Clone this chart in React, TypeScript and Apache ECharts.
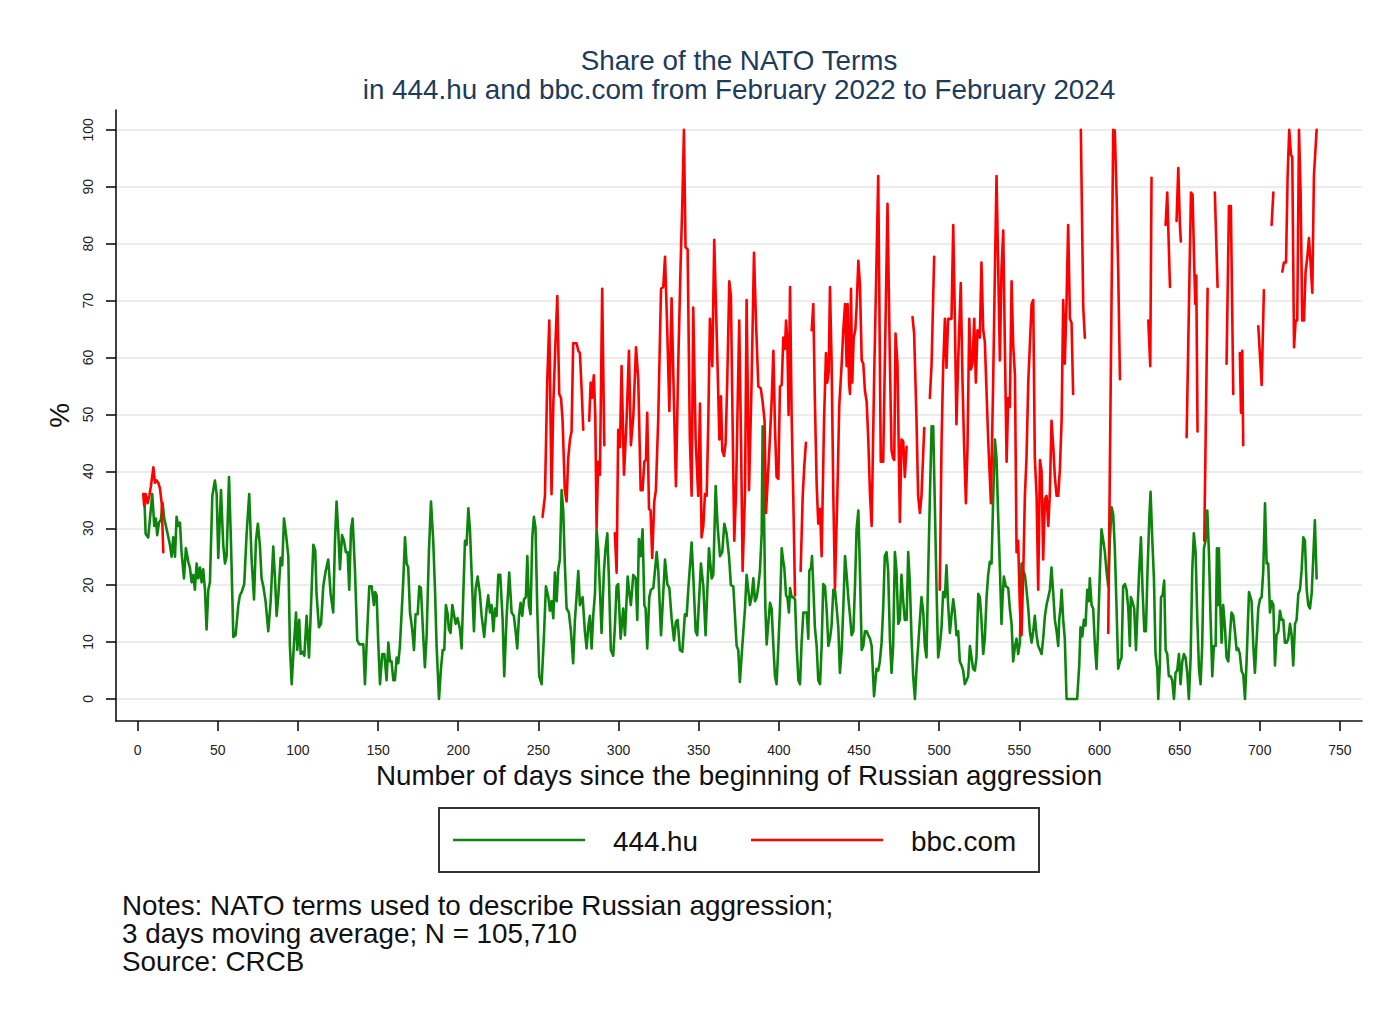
import React, { useEffect, useRef } from "react";
import * as echarts from "echarts";

const FONT = "'Liberation Sans', Arial, Helvetica, sans-serif";

const titleLines = [
  "Share of the NATO Terms",
  "in 444.hu and bbc.com from February 2022 to February 2024",
];
const xAxisTitle = "Number of days since the beginning of Russian aggression";
const yAxisTitle = "%";
const seriesNames = ["444.hu", "bbc.com"];
const noteLines = [
  "Notes: NATO terms used to describe Russian aggression;",
  "3 days moving average; N = 105,710",
  "Source: CRCB",
];

const xTicks = [0, 50, 100, 150, 200, 250, 300, 350, 400, 450, 500, 550, 600, 650, 700, 750];
const yTicks = [0, 10, 20, 30, 40, 50, 60, 70, 80, 90, 100];

// [day, share %] for 444.hu
const share444: [number, number][] = [
  [4.1,36],[5,29],[6.6,28.4],[7.7,31.7],[9.1,36],[10.4,30.4],[11.4,31.7],[12.2,28.8],[13.3,31],[14.5,31.5],[15.6,34.4],[16.6,31.7],[18.1,29.8],[20.2,27],[21.2,25],[22.2,28.4],[23.3,25],[24.3,32],[25.3,30.4],[26.4,31],[27.4,25.8],[28.9,21.2],[30.1,26.5],[31.6,24.1],[32.6,23.1],[33.7,20.5],[34.7,21.8],[35.7,19.2],[36.8,23.8],[37.8,21.2],[38.9,23.1],[39.9,20.5],[40.9,22.8],[42,19.2],[43,12.2],[44.1,19.2],[45.1,20.5],[46.6,35.7],[48.2,38.4],[49.3,36],[50.3,24.8],[52,36.7],[53.4,27.1],[54.5,23.8],[55.5,25.1],[57,39],[58.2,27.8],[59.7,10.9],[61.1,11.2],[62.8,16.5],[63.8,18.2],[64.9,18.8],[66.5,20.2],[68,29.1],[69.6,36],
  [71.1,24.5],[72.6,17.5],[73.8,27.8],[75,30.8],[76.3,26.8],[77.3,21.2],[78.4,19.8],[79.8,17.2],[81.5,11.9],[83,17.2],[84.6,26.8],[85.7,21.2],[86.7,14.6],[87.7,17.9],[89.2,24.8],[90.2,23.5],[91.3,31.7],[92.5,29.1],[94,25.1],[95,9.3],[96.1,2.6],[97.5,9.6],[98.8,15.2],[99.6,8.6],[100.8,13.9],[101.7,7.9],[102.9,8.3],[104,7.6],[105.4,14.6],[106.9,7.3],[108.1,15.9],[109.6,27.1],[110.8,26.1],[111.6,18.5],[113.1,12.6],[114.4,13.2],[115.8,19.8],[117.3,22.5],[118.9,24.5],[120.4,18.5],[122,15.2],[123.1,27.8],[124.1,34.7],[125.2,29.1],[126.2,22.8],[127.5,28.8],[128.7,27.8],[129.9,25.8],[131,25.8],[132,19.2],[133.1,29.8],[134.1,31.7],[135.6,22.5],[137,10.3],[138.3,9.6],[140.8,9.6],[141.8,2.6],[142.8,9.3],[144.5,19.8],[146,19.8],[147.4,16.5],
  [148.2,18.8],[149.1,18.2],[150.1,9.9],[151.2,2.6],[152.6,7.9],[153.9,7.9],[155.3,3.3],[156.4,9.9],[157.4,6.6],[158.4,6.6],[159.5,3.3],[160.5,3.3],[161.6,7.3],[162.6,6.3],[163.6,9.3],[164.7,15.2],[165.7,20.8],[166.8,28.4],[167.8,23.8],[168.8,23.1],[169.9,15.2],[171.3,12.2],[172.4,8.6],[173.4,14.9],[174.7,14.9],[175.7,19.8],[176.7,19.5],[178.2,10.9],[179.2,5.6],[180.3,11.2],[181.7,25.8],[183,34.7],[184.4,27.8],[185.5,19.2],[186.5,9.3],[188,0],[189.2,5.3],[190.3,8.6],[191.3,8.6],[192.3,16.5],[193.4,14.9],[194.2,12.2],[195.2,11.6],[196.3,16.5],[197.3,14.9],[198.4,13.2],[199.6,14.2],[201.1,12.2],[202.1,8.9],[203.1,17.9],[204.2,27.8],[205.2,27.1],[206.3,33.5],[207.3,29.8],[208.3,22.5],[209.8,11.9],[210.8,19.2],[212.1,21.5],[213.5,18.5],[214.6,14.6],[216.2,10.9],[217.7,15.9],[218.7,18.2],[219.8,15.2],[220.8,16.5],[221.9,11.9],[222.9,15.9],[223.9,14.6],[225,21.8],
  [226.2,21.8],[227.7,13.9],[228.7,4],[230.2,14.6],[231.8,22.2],[233.3,15.2],[234.7,14.6],[235.8,11.9],[236.8,8.9],[237.9,14.6],[238.9,16.9],[239.9,14.6],[241,17.5],[242.2,17.9],[243.1,25.1],[244.1,16.5],[245.1,14.9],[246.2,28.4],[247.2,32],[248.2,30.1],[249.3,15.9],[250.5,4],[252,2.6],[253.4,10.6],[254.7,19.8],[256.2,17.9],[257.2,15.5],[258.2,17.2],[259.3,14.2],[260.3,22.2],[261.4,17.2],[262.4,22.8],[263.4,24.5],[264.5,36.7],[265.5,33.1],[266.5,23.8],[267.6,15.9],[269,15.2],[270.3,11.9],[271.7,6.3],[272.8,13.9],[273.8,17.9],[274.9,22.5],[275.9,16.5],[277.6,17.9],[279,11.9],[280.1,8.9],[281.1,12.6],[282.1,14.6],[283.2,8.9],[284.2,14.6],[285.3,18.5],[286.3,29.8],[287.3,26.5],[288.4,19.2],[289.4,11.6],[290.9,22.5],[291.9,26.5],[293,29.1],[294,21.2],[295.2,8.6],[296.7,7.6],[297.7,12.6],[298.8,19.8],[299.8,20.2],[301.3,10.6],[302.9,15.9],
  [304,11.2],[305.7,21.5],[306.5,19.2],[307.7,16.5],[309.2,21.8],[310.7,21.2],[311.7,13.9],[312.7,28.1],[313.8,25.1],[315,29.8],[316.1,16.5],[316.9,15.9],[317.9,8.9],[319.2,17.9],[320.2,19.2],[321.7,19.5],[323.8,25.8],[324.8,22.5],[326.5,11.2],[327.5,16.5],[329,24.5],[330.4,20.2],[331.7,19.5],[333.1,14.2],[334.6,10.3],[335.8,13.6],[336.9,13.9],[338.3,8.6],[339.8,8.3],[341.4,14.9],[342.5,14.6],[343.5,19.2],[345.6,27.5],[346.6,21.8],[348.1,11.9],[349.1,11.2],[351.4,23.8],[352.9,19.8],[354.3,11.2],[356.4,26.5],[358.1,21.2],[359.1,21.8],[360.6,37.4],[361.8,30.4],[363.3,25.1],[364.7,25.8],[366,30.8],[367.4,29.1],[368.9,25.1],[370.1,20],[371.6,19.8],[373.7,9.3],[374.7,8.6],[375.7,3],[377.2,9.3],[378.9,15.9],[379.9,21.8],
  [382,16.5],[383,17.9],[384.1,21.2],[385.1,17.2],[386.2,17.9],[387.2,19.8],[388.2,22.5],[389.3,29.1],[389.9,47.9],[390.7,33.7],[391.6,15.9],[392.4,9.6],[393.4,13.2],[394.5,16.9],[395.5,15.9],[396.6,9.3],[397.6,4],[398.6,2.6],[399.7,9.3],[400.7,15.9],[401.8,26.5],[402.8,24.1],[403.4,23.1],[404.5,18.2],[405.3,17.9],[406.3,15.2],[407,19.5],[408,17.9],[409,17.9],[410.1,17.5],[411.1,9.3],[412.2,3.3],[413.2,2.6],[414.2,9.9],[415.3,15.2],[416.3,15.2],[417.4,15.2],[418.4,10.6],[419,22.5],[420.1,23.1],[420.7,25.1],[421.5,19.8],[422.5,12.6],[423.6,9.3],[424.6,3.3],[425.7,2.6],[426.7,9.3],[427.7,20.2],[428.8,19.8],[429.8,15.9],[430.9,9.3],[431.9,10.6],[432.9,12.9],[434,19.2],[435,19.2],[436.1,15.9],[437.1,12.6],[438.1,4.6],[439.2,8.6],[440.2,15.9],[441.3,25.1],[442.3,21.8],[443.3,17.9],[444.4,14.6],[445.4,11.2],[446.5,11.9],[447.5,19.8],[448.5,29.8],[449.6,33.1],[450.6,22.5],[451.7,8.6],[452.7,9.3],[453.7,11.9],[454.8,11.9],[455.8,11.2],[456.9,10.6],[457.9,9.3],[459.4,0.5],
  [460.9,5.3],[462,5],[463,6.6],[464.1,9.9],[465.1,15.9],[466.1,25.1],[467.2,25.8],[468.2,22.5],[469.3,10.6],[470.3,4.6],[471.3,9.3],[472.4,25.8],[473.4,22.5],[474.5,13.2],[475.5,13.9],[476.5,21.8],[477.6,17.2],[478.6,13.9],[479.7,13.9],[480.7,25.8],[481.7,20.5],[482.8,10.6],[483.8,4],[484.9,0],[485.9,5.3],[486.9,9.3],[488,13.9],[489,17.9],[490.1,15.2],[491.1,9.3],[492.1,7.3],[493.2,22.5],[494.2,35.1],[495.3,47.9],[496.3,47.9],[497.3,34.4],[498.4,19.2],[499.4,7.3],[500.4,9.3],[501.5,12.6],[502.5,18.8],[503.6,17.9],[504.6,23.5],[505.6,16.7],[506.7,11.6],[507.7,14.6],[508.8,17.5],[509.8,15.2],[510.8,11.2],[511.9,11.9],[512.9,6.6],[514,5.9],[515,5],[516,2.6],[517.1,3.3],[518.1,4],[519.2,9.3],[520.2,7.3],[521.2,5.3],[522.3,5],[523.3,7.3],[524.4,18.5],[525.4,17.9],[526.4,13.9],[527.5,7.9],[528.5,10.6],[529.6,17.9],[530.6,21.8],[531.6,24.1],[532.7,23.8],[533.7,35.1],[534.8,45.6],[535.8,42.3],[536.8,32.4],
  [538,22],[538.9,13.2],[539.6,17.9],[540.4,21.5],[541.6,19.8],[543.1,19.5],[544.1,15.9],[545.2,13.2],[546.2,6.6],[547.3,9.3],[548.3,10.6],[549.3,7.9],[550.4,9.9],[551.4,23.8],[552.5,22.5],[553.5,21.8],[554.5,19.2],[555.6,15.9],[556.6,11.9],[557.7,9.9],[558.7,11.9],[559.7,14.6],[560.8,11.2],[561.8,9.3],[562.9,8.6],[563.9,7.9],[564.9,10.6],[566,14.6],[567,16.5],[568.1,17.9],[569.1,19.2],[570.1,23.1],[571.2,18.5],[572.2,13.9],[573.3,11.9],[574.3,9.3],[574.9,13.9],[575.7,15.9],[576.4,19.2],[577.4,13.9],[578.4,10.6],[579.5,0],[586.1,0],[587.4,5.9],[588.2,12.6],[589.3,11],[590.3,13.9],[591.3,12.9],[592.4,19.2],[593.4,17.2],[594,21.2],[595.1,16.5],[596.1,15.9],[597.2,9.3],[598.2,5.3],[599.2,12.6],[600.3,22.5],[601.3,29.8],[602.4,27.8],[603.4,25.8],[604.4,22.5],[605.5,19.8],[606.5,27.8],[607.6,33.7],[608.6,32.4],[609.6,26.5],[610.7,15.9],[611.7,5.3],[612.8,6.6],[613.8,7.3],[614.8,19.8],
  [615.9,20.2],[616.9,19.2],[618,15.9],[619,9.3],[619.6,17.9],[620.5,17.2],[621.7,15.9],[622.8,8.6],[623.8,15.9],[624.8,22.5],[625.9,28.4],[626.9,19.2],[628,11.9],[629,11.9],[630,22.5],[631.1,31.7],[631.9,36.4],[633,27.8],[634,21.2],[635,7.9],[636.1,5.3],[636.7,0],[637.7,5.9],[638.4,17.9],[639.4,18.2],[640.4,20.8],[641.3,8.6],[642.3,7.9],[643.3,4],[644.4,4],[645.4,3.3],[646.5,0],[647.5,4.6],[648.5,5],[649.6,7.9],[650.6,2.6],[651.7,6.6],[652.7,7.9],[653.7,7.3],[654.8,4.6],[655.8,0],[656.9,7.3],[657.9,22.5],[658.9,29.1],[660,25.8],[661,14.6],[662.1,5.3],[663.1,2.6],[664.1,9.3],[665.2,26.5],[666.2,27.8],[667.3,33.1],[668.3,25.8],[669.3,14.6],[670.4,4],[671.4,9.3],[672.5,9.3],[673.3,26.5],[673.9,16.5],[674.5,26.5],[675.4,16.5],[676.2,9.9],[677.2,16.5],[678.3,12.6],[679.3,7.3],[680.4,6.6],[681.4,11.2],[682.4,15.2],[683.5,14.6],[684.5,11.9],[685.6,8.6],[686.6,8.9],[687.6,7.9],[688.7,4.9],[689.7,4.3],[690.8,0],[691.8,6.6],[693.3,18.8],
  [694.9,17.2],[696,9.3],[697,4.6],[698.1,10.6],[699.1,15.9],[700.1,17.5],[701.2,17.9],[702.2,22.5],[703.3,34.4],[704.3,23.8],[705.3,23.8],[706.4,15.2],[707.4,17.2],[708.5,16.5],[709.5,5.9],[710.5,11.2],[711.6,11.9],[712.6,15.5],[713.7,13.9],[714.7,13.9],[715.7,9.9],[716.8,9.9],[717.8,10.6],[718.9,13.2],[719.9,11.2],[720.9,5.9],[722,13.2],[723,13.9],[724.1,18.5],[725.1,19.2],[726.1,22.5],[727.2,28.4],[728.2,27.8],[729.3,19.2],[730.3,16.5],[731.3,15.9],[732.4,18.5],[733.4,24.8],[734.4,31.4],[735.5,21.2],
];

// [day, share %] for bbc.com; null marks days with no data (line breaks)
const shareBbc: [number, number | null][] = [
  [3.5,36],[4.1,34],[5,36],[6.2,34.4],[7.3,35.7],[8.3,37.4],[9.8,40.7],[10.8,38],[11.8,38.4],[12.9,38],[13.9,37],[15,34.4],[16,25.8],
  [17,null],
  [252.6,32],[254.1,35.7],[255.5,55.6],[256.8,66.5],[258.2,36],[259.3,51.6],[260.5,61.5],[261.8,70.8],[263,53.6],[264.1,52.9],[265.1,48.9],[266.5,36.7],[267.6,34.7],[268.6,42.3],[269.7,45.6],[270.7,47],[271.7,62.5],[273.8,62.5],[274.9,61.2],[275.9,60.8],[277,54.2],[278,47.3],
  [279,null],
  [281.7,48.9],[282.6,55.6],[283.4,52.9],[284.6,56.9],[285.5,49.6],[286.3,30.1],[287.3,41.7],[288.4,39.4],[289.8,72.1],[291.1,44.6],
  [292,null],
  [297.7,29.1],[298.8,22.2],[299.8,47.3],[300.9,44.3],[301.9,58.5],[303.4,39.4],[305,48.9],[306.5,61.2],[307.7,44.6],[309.2,49.6],[310.9,61.8],[312.3,56.2],[313.8,36.7],[315,36.7],[316.1,41.7],[317.1,42],[317.9,50.3],[319,33.4],[320,33.1],[321,24.8],[322.3,34.7],[323.3,36.7],[324.8,49.6],[326.5,72.1],[327.9,72.4],[329,77.7],[330.4,64.8],[331.7,50.6],[333.1,70.4],[334.6,51.6],[335.8,37.4],[337.3,59.5],[338.7,76.1],[339.8,87.3],[340.8,100],[341.8,79.4],[343.1,79],[344.5,45.6],[345.6,35.7],[346.6,68.8],[348.1,45.6],[349.7,35.7],[350.8,51.9],[351.8,28.4],[352.9,30.4],[353.9,36],[355,35.7],[356,48.9],[357,66.8],[358.5,58.5],[359.7,80.7],[360.8,68.8],[361.8,58.2],[362.9,45.6],[363.9,53.2],[364.7,43.7],[365.8,42.7],[366.8,45],[367.8,55.6],[369.1,73.4],[370.1,70.8],[371.2,47.6],[372.2,27.8],[373.3,36.4],[374.3,51.6],[375.3,66.5],[376.4,45.6],[377.4,22.5],[378.9,36.4],[379.9,70.1],[381.4,36.7],[383,55.6],[384.5,78.4],[385.7,66.8],[387.2,54.9],[388.7,54.6],[389.9,52.2],[391.1,48.9],[392,32.7],[394.1,44],[395.5,52.2],[396.6,61.2],[397.6,47.6],[398.6,39],[399.7,38.7],[400.7,54.9],[401.8,55.2],[402.8,63.5],[403.8,61.5],[404.5,66.5],[405.3,62.8],[406.1,49.9],[407,72.4],[408,49.6],[409,35.7],[410.1,18.2],
  [411,null],
  [413.6,22.5],[414.9,35.7],[415.9,41],[416.9,45],
  [418,null],
  [420.5,64.8],[421.5,69.4],[422.5,52.2],[423.6,37.7],[424.6,30.8],[425.7,33.4],[426.7,25.1],[428.2,48.9],[429.4,60.8],[430.2,55.6],[431.1,57.5],[431.9,72.4],[432.9,59.5],[434,35.7],[435,19.5],[436.5,35.7],[437.7,51.6],[439.2,58.9],[440.2,64.8],[441.3,69.4],[442.3,58.5],[442.9,69.4],[443.8,55.6],[444.4,53.6],[445,72.1],[445.8,55.6],[446.7,63.5],[447.7,64.8],[448.5,68.8],[449.6,77],[450.6,72.8],[451.7,59.5],[452.7,58.9],[453.7,54.2],[454.8,52.2],[455.8,45.6],[456.9,35.7],[457.9,30.4],[459.4,55.6],[462,91.9],[463.6,41.7],[465.1,41.7],[467.8,87],[469.3,58.9],[470.3,43.7],[471.3,42.3],[472,42],[472.8,64.2],[474,58.9],[475.5,31.1],[476.5,45.6],[477.6,45.3],[478.6,39],[479.7,44.3],
  [481,null],
  [483.4,67.1],[484.4,64.2],[485.9,48.9],[486.9,35.7],[488,32.7],[489,35.7],[490.7,47.6],
  [492,null],
  [494.2,52.9],[495.3,58.9],[496.9,77.7],
  [498,null],
  [500.4,19.2],[501.5,45],[502.5,58.2],[503.6,66.8],[504.6,58.2],[505.6,66.8],[507.7,66.8],[508.8,83.3],[509.8,66.8],[510.8,48.3],[511.9,59.5],[513.5,73.1],[514.6,55.6],[515.6,44.3],[516.7,34.4],[517.7,44.3],[518.8,66.8],[519.8,57.9],[520.8,58.9],[521.9,66.8],[522.9,55.6],[523.9,64.8],[525.4,63.5],[526.4,76.7],[527.5,64.8],[528.5,62.8],[530.6,45.6],[532.3,34.4],[533.7,55.6],[534.8,75.4],[535.8,91.9],[537.9,59.5],[538.9,75.4],[540,82.3],[541,62.2],[542.1,41.7],[543.1,52.9],[544.1,51.3],[545.2,73.4],[546.2,62.2],[547.3,56.9],[548.3,25.8],[549.3,27.8],[550.4,15.9],[551.4,11.2],[552.5,22.5],[553.5,35.7],[554.5,42.3],[555.6,55.6],[556.6,62.2],[557.7,69.4],[558.7,70.1],[559.7,42.3],[560.8,35.7],[561.8,19.2],[562.9,42],[563.9,40],[564.9,24.5],[566,35.1],[567,35.7],[568.1,30.4],[569.1,36.4],[570.1,48.9],[571.2,44.3],[572.2,39],[573.3,35.7],[574.3,35.7],[575.3,40.3],[576.4,48.9],[577.4,70.1],[578.4,58.9],[579.5,70.1],[580.5,83.3],[581.6,66.8],[582.6,66.1],[583.6,53.6],
  [585,null],
  [588.4,100],[589.9,68.8],[590.9,63.5],
  [595,null],
  [605.5,11.6],[608.6,100],[609.6,99.9],[610.7,88.6],[611.7,75.4],[612.8,56.2],
  [620,null],
  [630.5,66.5],[631.7,58.5],[632.5,91.6],
  [636,null],
  [641.3,83.3],[642.3,89],[642.9,83.3],[644,72.4],
  [646,null],
  [648.1,84],[649.2,93.3],[650.2,83.3],[650.8,80.4],
  [652,null],
  [654.4,46],[655.4,62.2],[657.1,89],[658.1,88.6],[659.2,75.4],[659.8,69.4],[660.4,74.4],[661.2,47],
  [663,null],
  [665.4,27.8],[667.5,72.1],
  [669,null],
  [672,89],[673.7,72.4],
  [676,null],
  [679.3,58.9],[680.8,86.6],[682,86.6],[683.5,53.6],
  [685,null],
  [687.6,60.8],[688.3,50.3],[689.1,61.2],[689.7,44.6],
  [694,null],
  [699.1,65.5],[701.2,55.2],[702.6,71.8],
  [705,null],
  [707.4,83.3],[708.5,89],
  [711,null],
  [714.1,75.1],[715.1,76.7],[716.4,76.7],[717.4,91.9],[718.4,100],[719.5,95.6],[720.3,95.2],[721.4,61.8],[722.4,66.5],[723.4,66.5],[724.5,100],[725.5,89],[726.5,66.5],[727.6,66.5],[728.6,75.1],[729.7,77.7],[730.7,81],[731.7,76.7],[732.8,71.4],[733.8,91.9],[735.5,100],
];

const GREEN = "#0d850d";
const RED = "#ff0000";
const TITLE_COLOR = "#1d3b5a";
const BIG = 27.8;

export default function App() {
  const ref = useRef<HTMLDivElement>(null);
  useEffect(() => {
    if (!ref.current) return;
    const chart = echarts.init(ref.current, null, { renderer: "svg" });
    const axisLineStyle = { color: "#111", width: 1.6 };
    chart.setOption({
      animation: false,
      backgroundColor: "#ffffff",
      textStyle: { fontFamily: FONT },
      grid: { left: 116, right: 17, top: 110, bottom: 290, containLabel: false },
      xAxis: {
        type: "value",
        min: -13.5,
        max: 763.8,
        name: xAxisTitle,
        nameLocation: "middle",
        nameGap: 36,
        nameTextStyle: { fontSize: BIG, color: "#111", fontFamily: FONT },
        axisLine: { show: true, onZero: false, lineStyle: axisLineStyle },
        axisTick: { show: true, length: 10, customValues: xTicks, lineStyle: axisLineStyle },
        axisLabel: { customValues: xTicks, margin: 22, fontSize: 14, color: "#222", fontFamily: FONT },
        splitLine: { show: false },
      },
      yAxis: {
        type: "value",
        min: -3.87,
        max: 103.5,
        name: yAxisTitle,
        nameLocation: "middle",
        nameRotate: 90,
        nameGap: 39,
        nameTextStyle: { fontSize: BIG, color: "#111", fontFamily: FONT },
        axisLine: { show: true, onZero: false, lineStyle: axisLineStyle },
        axisTick: { show: true, length: 10, customValues: yTicks, lineStyle: axisLineStyle },
        axisLabel: { customValues: yTicks, rotate: 90, margin: 21, fontSize: 14, color: "#222", fontFamily: FONT },
        splitLine: { show: true, lineStyle: { color: "#e6e6e6", width: 1.5 } },
      },
      series: [
        {
          name: seriesNames[0],
          type: "line",
          data: share444,
          showSymbol: false,
          symbol: "none",
          connectNulls: false,
          lineStyle: { color: GREEN, width: 2.6, join: "round", cap: "round" },
          itemStyle: { color: GREEN },
          z: 2,
        },
        {
          name: seriesNames[1],
          type: "line",
          data: shareBbc,
          showSymbol: false,
          symbol: "none",
          connectNulls: false,
          lineStyle: { color: RED, width: 2.6, join: "round", cap: "round" },
          itemStyle: { color: RED },
          z: 3,
        },
      ],
      graphic: [
        {
          type: "text", x: 739, y: 60,
          style: { text: titleLines[0], textAlign: "center", textVerticalAlign: "middle", fontSize: BIG, fontFamily: FONT, fill: TITLE_COLOR },
        },
        {
          type: "text", x: 739, y: 89,
          style: { text: titleLines[1], textAlign: "center", textVerticalAlign: "middle", fontSize: BIG, fontFamily: FONT, fill: TITLE_COLOR },
        },
        {
          type: "rect",
          shape: { x: 439, y: 808, width: 600, height: 64 },
          style: { fill: "none", stroke: "#333", lineWidth: 2 },
        },
        {
          type: "line",
          shape: { x1: 453, y1: 840, x2: 585, y2: 840 },
          style: { stroke: GREEN, lineWidth: 2.6 },
        },
        {
          type: "text", x: 613, y: 841,
          style: { text: seriesNames[0], textAlign: "left", textVerticalAlign: "middle", fontSize: BIG, fontFamily: FONT, fill: "#111" },
        },
        {
          type: "line",
          shape: { x1: 751, y1: 840, x2: 883, y2: 840 },
          style: { stroke: RED, lineWidth: 2.6 },
        },
        {
          type: "text", x: 911, y: 841,
          style: { text: seriesNames[1], textAlign: "left", textVerticalAlign: "middle", fontSize: BIG, fontFamily: FONT, fill: "#111" },
        },
        ...noteLines.map((t, i) => ({
          type: "text", x: 122, y: 905 + i * 28,
          style: { text: t, textAlign: "left", textVerticalAlign: "middle", fontSize: BIG, fontFamily: FONT, fill: "#111" },
        })),
      ],
    });
    return () => chart.dispose();
  }, []);
  return (
    <div
      ref={ref}
      style={{ position: "absolute", left: 0, top: 0, width: 1379, height: 1011, background: "#fff" }}
    />
  );
}
